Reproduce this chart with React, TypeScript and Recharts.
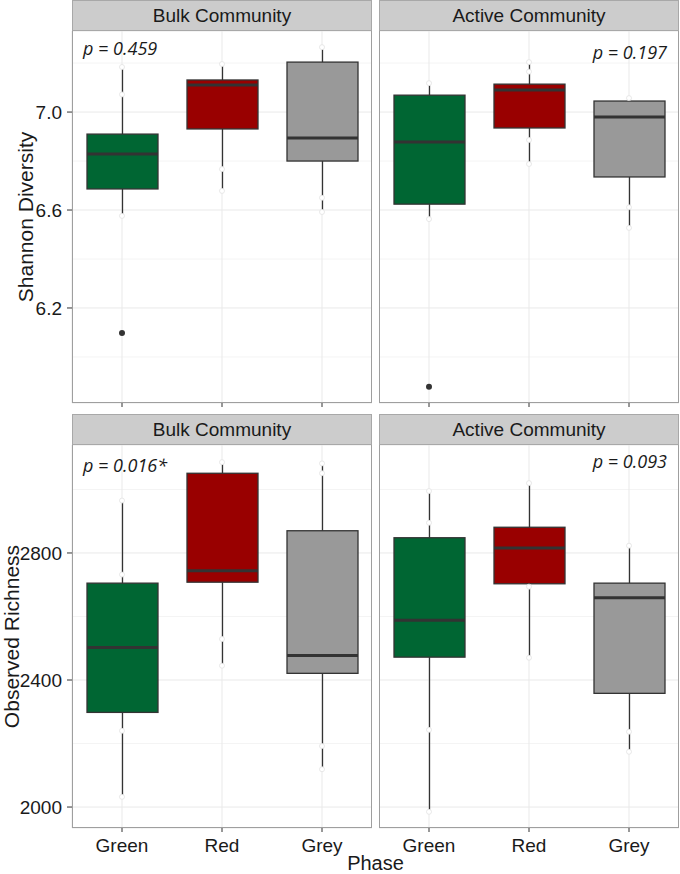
import React from "react";
import {
  ComposedChart, Bar, Cell, Scatter, XAxis, YAxis, CartesianGrid,
} from "recharts";

const phases = ["Green", "Red", "Grey"];
const phaseColors = ["#006633", "#990000", "#999999"];

// five-number summaries per phase: [lower whisker, Q1, median, Q3, upper whisker]
const bulkShannonBox = [
  [6.576, 6.686, 6.829, 6.91, 7.184],
  [6.678, 6.931, 7.11, 7.131, 7.196],
  [6.592, 6.8, 6.894, 7.204, 7.265],
];
const activeShannonBox = [
  [6.563, 6.624, 6.878, 7.069, 7.118],
  [6.788, 6.935, 7.09, 7.114, 7.204],
  [6.527, 6.735, 6.98, 7.045, 7.057],
];
const bulkRichnessBox = [
  [2032, 2298, 2502, 2705, 2965],
  [2445, 2708, 2744, 3051, 3086],
  [2119, 2421, 2477, 2870, 3082],
];
const activeRichnessBox = [
  [1985, 2472, 2588, 2848, 2995],
  [2470, 2703, 2816, 2881, 3020],
  [2174, 2358, 2659, 2705, 2823],
];

// outliers (dark dots)
const bulkShannonOutliers = [[6.098], [], []];
const activeShannonOutliers = [[5.878], [], []];
const bulkRichnessOutliers = [[], [], []];
const activeRichnessOutliers = [[], [], []];

// raw samples that show outside the boxes (faint white dots)
const bulkShannonPoints = [[7.184, 7.072, 6.576], [7.196, 6.767, 6.678], [7.265, 6.65, 6.592]];
const activeShannonPoints = [[7.118, 6.563], [7.204, 7.165, 6.886, 6.788], [7.057, 6.611, 6.527]];
const bulkRichnessPoints = [[2965, 2732, 2240, 2032], [3086, 2529, 2445], [3082, 3051, 2192, 2119]];
const activeRichnessPoints = [[2995, 2895, 2243, 1985], [3020, 2694, 2470], [2823, 2237, 2174]];

const shannonDomain = [5.812, 7.331];
const shannonTicks = [6.2, 6.6, 7.0];
const shannonMinor = [6.0, 6.4, 6.8, 7.2];
const richnessDomain = [1934, 3140];
const richnessTicks = [2000, 2400, 2800];
const richnessMinor = [2200, 2600, 3000];

const pBulkShannon = "p = 0.459";
const pActiveShannon = "p = 0.197";
const pBulkRichness = "p = 0.016*";
const pActiveRichness = "p = 0.093";

const FONT = "'Liberation Sans', Arial, sans-serif";
const INK = "#1a1a1a";
const LINE = "#333333";

const toRows = (box: number[][]) =>
  phases.map((phase, i) => ({
    phase,
    lo: box[i][0], q1: box[i][1], med: box[i][2], q3: box[i][3], hi: box[i][4],
  }));

const toPoints = (vals: number[][]) =>
  vals.flatMap((arr, i) => arr.map((v) => ({ phase: phases[i], v })));

function BoxShape(props: any) {
  const { x, y, width, height, payload, fill } = props;
  const top = Math.min(y, y + height);
  const h = Math.abs(height);
  const { lo, q1, med, q3, hi } = payload;
  const py = (v: number) => top + ((hi - v) / (hi - lo)) * h;
  const cx = x + width / 2;
  return (
    <g>
      <line x1={cx} x2={cx} y1={py(hi)} y2={py(q3)} stroke={LINE} strokeWidth={1.3} />
      <line x1={cx} x2={cx} y1={py(q1)} y2={py(lo)} stroke={LINE} strokeWidth={1.3} />
      <rect x={x} y={py(q3)} width={width} height={py(q1) - py(q3)} fill={fill} stroke={LINE} strokeWidth={1.3} />
      <line x1={x} x2={x + width} y1={py(med)} y2={py(med)} stroke={LINE} strokeWidth={3} />
    </g>
  );
}

type PanelProps = {
  left: number; top: number; plotH: number; showY: boolean; bottomRow: boolean;
  box: number[][]; outliers: number[][]; points: number[][];
  domain: number[]; ticks: number[]; minor: number[]; fmt: (v: number) => string;
  yTitle?: string; yTitleOffset?: number;
};

function Panel(p: PanelProps) {
  const yw = p.showY ? 72 : 0;
  const xh = p.bottomRow ? 30 : 6;
  const pts = toPoints(p.points);
  const outs = toPoints(p.outliers);
  return (
    <div style={{ position: "absolute", left: p.left - yw, top: p.top }}>
      <ComposedChart
        width={yw + 300}
        height={p.plotH + xh}
        data={toRows(p.box)}
        margin={{ top: 0, right: 0, bottom: 0, left: 0 }}
      >
        <CartesianGrid stroke="#f4f4f4" vertical={false} horizontalValues={p.minor} />
        <CartesianGrid stroke="#e9e9e9" strokeWidth={1} />
        <XAxis
          dataKey="phase"
          type="category"
          allowDuplicatedCategory={false}
          height={xh}
          axisLine={false}
          tickLine={{ stroke: LINE }}
          tickSize={4}
          tickMargin={7}
          tick={{ fill: INK, fontSize: 19, fontFamily: FONT }}
          tickFormatter={(v: string) => (p.bottomRow ? v : "")}
          interval={0}
        />
        <YAxis
          type="number"
          domain={p.domain}
          allowDataOverflow
          ticks={p.ticks}
          hide={!p.showY}
          width={yw}
          axisLine={false}
          tickLine={{ stroke: LINE }}
          tickSize={5}
          tickMargin={5}
          tick={{ fill: INK, fontSize: 19, fontFamily: FONT }}
          tickFormatter={p.fmt}
          label={
            p.yTitle
              ? {
                  value: p.yTitle,
                  angle: -90,
                  position: "insideLeft",
                  offset: p.yTitleOffset,
                  style: { textAnchor: "middle", fill: INK, fontSize: 21, fontFamily: FONT },
                }
              : undefined
          }
        />
        {pts.length > 0 && (
          <Scatter
            data={pts}
            dataKey="v"
            isAnimationActive={false}
            shape={(s: any) => <circle cx={s.cx} cy={s.cy} r={2.5} fill="#ffffff" stroke="#e2e2e2" strokeWidth={0.8} />}
          />
        )}
        <Bar
          dataKey={(d: any) => [d.lo, d.hi]}
          barSize={71}
          shape={BoxShape}
          isAnimationActive={false}
        >
          {phases.map((ph, i) => (
            <Cell key={ph} fill={phaseColors[i]} />
          ))}
        </Bar>
        {outs.length > 0 && (
          <Scatter
            data={outs}
            dataKey="v"
            isAnimationActive={false}
            shape={(s: any) => <circle cx={s.cx} cy={s.cy} r={3} fill="#333333" />}
          />
        )}
      </ComposedChart>
    </div>
  );
}

function Strip({ left, top, label }: { left: number; top: number; label: string }) {
  return (
    <div
      style={{
        position: "absolute", left, top, width: 300, height: 31, boxSizing: "border-box",
        background: "#cccccc", border: "1px solid #a8a8a8",
        display: "flex", alignItems: "center", justifyContent: "center",
        fontFamily: FONT, fontSize: 19, color: INK,
      }}
    >
      {label}
    </div>
  );
}

function Frame({ left, top, height }: { left: number; top: number; height: number }) {
  return (
    <div
      style={{
        position: "absolute", left, top, width: 300, height, boxSizing: "border-box",
        border: "1px solid #9f9f9f", pointerEvents: "none",
      }}
    />
  );
}

function PLabel({ x, top, text, right }: { x: number; top: number; text: string; right?: boolean }) {
  return (
    <div
      style={{
        position: "absolute", top, lineHeight: "18px", fontSize: 18, fontStyle: "italic",
        fontFamily: "'Open Sans', 'Noto Sans', sans-serif", color: INK, whiteSpace: "nowrap",
        ...(right ? { right: 680 - x } : { left: x }),
      }}
    >
      {text}
    </div>
  );
}

export default function App() {
  const L = 72;
  const R = 379;
  const topPlotTop = 31;
  const topPlotH = 372;
  const botPlotTop = 445;
  const botPlotH = 383;
  const f1 = (v: number) => v.toFixed(1);
  const f0 = (v: number) => String(v);
  return (
    <div style={{ position: "absolute", left: 0, top: 0, width: 680, height: 874, background: "#ffffff", overflow: "hidden" }}>
      <Panel left={L} top={topPlotTop} plotH={topPlotH} showY bottomRow={false}
        box={bulkShannonBox} outliers={bulkShannonOutliers} points={bulkShannonPoints}
        domain={shannonDomain} ticks={shannonTicks} minor={shannonMinor} fmt={f1}
        yTitle="Shannon Diversity" yTitleOffset={26} />
      <Panel left={R} top={topPlotTop} plotH={topPlotH} showY={false} bottomRow={false}
        box={activeShannonBox} outliers={activeShannonOutliers} points={activeShannonPoints}
        domain={shannonDomain} ticks={shannonTicks} minor={shannonMinor} fmt={f1} />
      <Panel left={L} top={botPlotTop} plotH={botPlotH} showY bottomRow
        box={bulkRichnessBox} outliers={bulkRichnessOutliers} points={bulkRichnessPoints}
        domain={richnessDomain} ticks={richnessTicks} minor={richnessMinor} fmt={f0}
        yTitle="Observed Richness" yTitleOffset={12} />
      <Panel left={R} top={botPlotTop} plotH={botPlotH} showY={false} bottomRow
        box={activeRichnessBox} outliers={activeRichnessOutliers} points={activeRichnessPoints}
        domain={richnessDomain} ticks={richnessTicks} minor={richnessMinor} fmt={f0} />

      <Frame left={L} top={topPlotTop - 1} height={topPlotH + 1} />
      <Frame left={R} top={topPlotTop - 1} height={topPlotH + 1} />
      <Frame left={L} top={botPlotTop - 1} height={botPlotH + 1} />
      <Frame left={R} top={botPlotTop - 1} height={botPlotH + 1} />

      <Strip left={L} top={0} label="Bulk Community" />
      <Strip left={R} top={0} label="Active Community" />
      <Strip left={L} top={414} label="Bulk Community" />
      <Strip left={R} top={414} label="Active Community" />

      <PLabel x={83} top={39} text={pBulkShannon} />
      <PLabel x={667} top={43} text={pActiveShannon} right />
      <PLabel x={83} top={456} text={pBulkRichness} />
      <PLabel x={667} top={452} text={pActiveRichness} right />

      <div style={{ position: "absolute", left: 0, width: 751, top: 853, lineHeight: "20px", textAlign: "center", fontFamily: FONT, fontSize: 20, color: INK }}>
        Phase
      </div>
    </div>
  );
}
